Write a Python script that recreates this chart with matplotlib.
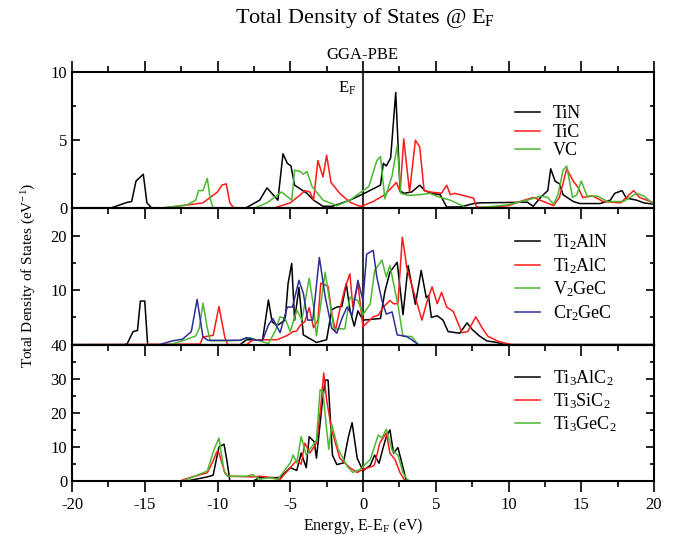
import numpy as np
import matplotlib
matplotlib.use("Agg")
import matplotlib.pyplot as plt
from matplotlib.ticker import MultipleLocator, FixedFormatter, FuncFormatter

plt.rcParams['font.family'] = ['Liberation Serif', 'DejaVu Serif']
plt.rcParams['mathtext.fontset'] = 'custom'
plt.rcParams['mathtext.rm'] = 'Liberation Serif'
plt.rcParams['mathtext.it'] = 'Liberation Serif:italic'
plt.rcParams['mathtext.default'] = 'regular'
plt.rcParams['axes.unicode_minus'] = False

# (energy eV, DOS)
# --- panel 1: binary carbides / nitrides
tin = [(-20, 0), (-17.4, 0), (-16.2, 0.44), (-15.9, 0.5), (-15.6, 2.0), (-15.1, 2.5), (-14.85, 0.4),
       (-14.5, 0), (-8.1, 0), (-7.1, 0.6), (-6.6, 1.5), (-5.85, 0.6), (-5.5, 4.0), (-5.2, 3.3),
       (-4.95, 3.1), (-4.7, 1.7), (-3.85, 1.1), (-3.4, 0.6), (-2.75, 0.15), (-2.1, 0.15), (-0.9, 0.6),
       (0, 1.05), (1.2, 1.7), (1.4, 3.3), (1.6, 3.1), (1.9, 3.7), (2.25, 8.5), (2.55, 1.3), (2.8, 1.1),
       (3.35, 1.2), (3.9, 1.7), (4.25, 1.3), (4.7, 1.1), (5.3, 1.0), (5.75, 0.1), (6.7, 0.1), (7.6, 0.35),
       (8.0, 0.4), (11.3, 0.45), (11.7, 0.15), (12.2, 0.8), (12.7, 1.3), (12.9, 2.9), (13.2, 2.0),
       (13.5, 1.8), (13.75, 1.0), (14.45, 0.5), (14.9, 0.35), (16.3, 0.35), (17.0, 0.6), (17.3, 1.1),
       (17.8, 1.3), (18.1, 0.75), (18.8, 0.6), (19.3, 0.4), (20, 0.3)]
tic = [(-20, 0), (-14.0, 0), (-12.4, 0.2), (-11.0, 0.4), (-10.0, 1.2), (-9.7, 1.7), (-9.4, 1.8),
       (-9.15, 0.4), (-8.9, 0.05), (-6.2, 0), (-5.0, 0.4), (-4.3, 1.0), (-4.0, 1.3), (-3.65, 1.2),
       (-3.4, 0.6), (-3.1, 3.5), (-2.75, 2.3), (-2.5, 3.9), (-2.2, 1.9), (-1.6, 1.1), (-0.9, 0.45),
       (-0.35, 0.2), (-0.1, 0.15), (0.7, 0.5), (1.5, 1.0), (2.3, 1.9), (2.55, 1.2), (2.8, 5.1), (3.2, 1.2),
       (3.6, 5.0), (3.9, 4.5), (4.2, 1.3), (4.6, 1.2), (5.4, 1.1), (5.75, 1.7), (6.0, 1.0), (6.3, 1.1),
       (7.6, 0.75), (7.8, 0.1), (8.5, 0.05), (10.0, 0.2), (10.8, 0.5), (11.7, 0.8), (12.4, 0.5),
       (13.1, 0.2), (13.5, 0.8), (14.0, 2.9), (14.45, 2.0), (14.8, 1.5), (15.1, 0.8), (15.8, 0.9),
       (16.5, 0.5), (17.7, 0.4), (18.6, 1.3), (19.0, 0.8), (20, 0.4)]
vc = [(-20, 0), (-14.0, 0), (-12.1, 0.25), (-11.5, 0.6), (-11.3, 1.3), (-11.0, 1.3), (-10.7, 2.2),
      (-10.5, 0.7), (-10.3, 0), (-7.5, 0), (-6.6, 0.4), (-5.6, 1.2), (-4.9, 0.6), (-4.7, 2.8), (-4.3, 2.7),
      (-4.1, 2.5), (-3.85, 2.7), (-3.5, 1.6), (-2.75, 0.6), (-1.8, 0.2), (-0.9, 0.6), (0.4, 1.6),
      (0.95, 3.5), (1.2, 3.8), (1.5, 0.7), (2.0, 2.4), (2.35, 4.6), (2.6, 1.1), (3.1, 0.95), (3.9, 1.0),
      (4.6, 1.1), (5.3, 0.8), (6.0, 0.6), (6.7, 0.25), (7.2, 0.0), (8.0, 0.05), (9.9, 0.25), (11.3, 0.6),
      (12.2, 0.9), (12.7, 0.8), (13.1, 0.3), (13.4, 1.0), (13.75, 2.8), (14.0, 3.1), (14.4, 0.8),
      (14.7, 1.0), (15.0, 2.0), (15.4, 0.9), (16.1, 0.9), (16.8, 0.5), (17.9, 0.5), (18.8, 1.1),
      (19.3, 0.9), (20, 0.3)]

# --- panel 2: M2AX phases
ti2aln = [(-20, 0), (-16.4, 0), (-16.2, 0.2), (-15.8, 2.4), (-15.5, 2.6), (-15.3, 8.0), (-15.0, 8.0),
          (-14.8, 0), (-8.45, 0), (-8.0, 0.9), (-6.9, 0.9), (-6.5, 8.2), (-6.25, 4.2), (-5.9, 3.5),
          (-5.35, 4.5), (-5.15, 11.2), (-4.9, 14.9), (-4.7, 4.5), (-4.4, 10.5), (-4.1, 1.8), (-3.2, 0.4),
          (-2.5, 0.9), (-2.15, 6.4), (-1.8, 6.9), (-1.45, 7.0), (-1.15, 11.2), (-0.9, 6.4), (-0.6, 3.4),
          (-0.35, 6.2), (0, 4.5), (1.2, 4.8), (1.5, 9.7), (1.85, 13.3), (2.1, 14.2), (2.35, 15.1),
          (2.75, 5.5), (3.1, 14.5), (3.6, 7.4), (4.0, 13.6), (4.35, 8.6), (4.5, 9.0), (4.7, 5.0),
          (5.1, 5.3), (5.5, 4.5), (5.85, 2.4), (6.65, 2.1), (7.15, 4.0), (7.5, 2.8), (8.0, 1.6),
          (8.5, 0.7), (9.2, 0.4), (9.6, 0.1), (10.1, 0), (20, 0)]
ti2alc = [(-20, 0), (-11.2, 0.1), (-11.0, 1.4), (-10.3, 1.7), (-9.9, 7.0), (-9.5, 1.4), (-9.3, 0),
          (-8.0, 0), (-7.55, 0.9), (-5.9, 0.9), (-5.2, 1.7), (-4.8, 2.4), (-4.55, 2.5), (-4.3, 3.6),
          (-4.0, 4.2), (-3.7, 6.8), (-3.4, 3.1), (-3.1, 4.5), (-2.9, 11.3), (-2.4, 10.7), (-2.15, 5.8),
          (-1.9, 2.5), (-1.6, 6.4), (-1.25, 10.3), (-0.9, 13.0), (-0.7, 6.9), (-0.35, 11.2), (0, 3.3),
          (0.35, 4.2), (0.7, 5.1), (1.05, 5.4), (1.4, 6.9), (1.85, 8.1), (2.1, 7.5), (2.4, 7.5),
          (2.7, 19.7), (2.9, 16.3), (3.0, 14.2), (3.45, 10.0), (4.05, 4.5), (4.4, 7.9), (4.75, 10.6),
          (5.1, 7.5), (5.4, 9.6), (5.75, 6.9), (6.2, 6.1), (6.8, 2.2), (7.2, 2.4), (7.75, 5.1),
          (8.2, 3.0), (8.6, 1.5), (9.3, 0.6), (9.9, 0.2), (10.3, 0), (20, 0)]
v2gec = [(-20, 0), (-13.3, 0), (-12.4, 0.7), (-11.5, 1.6), (-11.25, 3.0), (-11.0, 7.6), (-10.7, 3.0),
         (-10.5, 0.7), (-9.35, 0.7), (-8.45, 0.8), (-7.8, 1.3), (-7.1, 0.7), (-6.5, 0.2), (-6.05, 2.4),
         (-5.7, 5.1), (-5.35, 4.8), (-5.0, 2.4), (-4.55, 6.4), (-4.2, 4.5), (-3.7, 12.2), (-3.4, 7.0),
         (-3.2, 1.6), (-2.6, 13.3), (-2.3, 8.1), (-2.0, 2.9), (-1.25, 2.9), (-0.9, 8.7), (-0.35, 8.1),
         (0, 5.5), (0.5, 7.5), (0.8, 13.6), (1.3, 15.5), (1.6, 12.4), (1.85, 14.5), (2.1, 11.2),
         (2.4, 7.3), (2.75, 1.5), (3.35, 1.5), (3.8, 0), (20, 0)]
cr2gec = [(-20, 0), (-14.0, 0), (-13.1, 0.7), (-12.4, 1.0), (-11.8, 2.4), (-11.4, 8.3), (-11.0, 1.4),
          (-10.65, 0.8), (-8.45, 0.8), (-8.0, 1.3), (-7.3, 0.8), (-6.9, 0.8), (-6.5, 3.6), (-6.2, 4.8),
          (-5.7, 2.2), (-5.2, 6.9), (-4.85, 6.9), (-4.4, 11.8), (-4.1, 9.4), (-3.8, 4.5), (-3.45, 4.5),
          (-3.0, 16.0), (-2.6, 8.8), (-2.15, 3.0), (-1.8, 2.1), (-1.45, 4.8), (-1.1, 6.9), (-0.75, 5.4),
          (-0.35, 11.8), (0, 8.1), (0.25, 16.6), (0.7, 17.3), (0.95, 12.4), (1.3, 8.1), (1.6, 5.6),
          (2.0, 6.0), (2.35, 1.8), (3.0, 1.5), (3.35, 0.9), (3.8, 0), (20, 0)]

# --- panel 3: M3AX2 phases
ti3alc2 = [(-20, 0), (-12.1, 0), (-10.7, 1.2), (-10.3, 1.7), (-9.9, 10.0), (-9.55, 10.8), (-9.35, 5.9),
           (-9.15, 0), (-7.55, 0), (-7.1, 1.0), (-5.7, 1.0), (-5.0, 3.9), (-4.55, 3.1), (-4.25, 8.2),
           (-3.9, 3.9), (-3.7, 13.0), (-3.35, 11.5), (-3.2, 6.7), (-2.8, 22.9), (-2.6, 29.6), (-2.4, 29.6),
           (-2.1, 7.6), (-1.8, 4.8), (-1.35, 5.3), (-1.0, 13.0), (-0.75, 17.1), (-0.4, 6.7), (0, 3.0),
           (0.5, 4.6), (0.8, 7.6), (1.1, 5.2), (1.4, 10.0), (1.6, 13.0), (1.85, 15.0), (2.1, 8.2),
           (2.4, 9.8), (2.7, 4.8), (2.95, 0.5), (3.2, 0), (20, 0)]
ti3sic2 = [(-20, 0), (-12.6, 0), (-11.9, 1.0), (-10.7, 2.4), (-10.3, 5.9), (-10.05, 8.6), (-9.9, 8.3),
           (-9.5, 2.4), (-9.3, 1.4), (-7.55, 1.2), (-7.1, 1.4), (-6.6, 1.2), (-5.7, 0.5), (-5.0, 3.9),
           (-4.55, 6.1), (-4.25, 4.9), (-4.0, 11.1), (-3.65, 8.2), (-3.2, 11.1), (-2.9, 21.8), (-2.7, 31.7),
           (-2.5, 23.8), (-2.15, 14.9), (-1.6, 6.7), (-0.9, 3.9), (-0.4, 2.5), (0, 3.4), (0.7, 4.4),
           (0.8, 4.9), (1.15, 11.1), (1.6, 14.1), (1.85, 8.2), (2.2, 6.3), (2.55, 2.4), (2.9, 0), (20, 0)]
ti3gec2 = [(-20, 0), (-12.4, 0), (-10.7, 2.9), (-10.25, 9.1), (-9.9, 12.6), (-9.55, 3.0), (-9.3, 1.4),
           (-8.0, 1.4), (-7.6, 1.9), (-7.1, 0.5), (-6.5, 1.0), (-5.85, 0.5), (-5.0, 5.3), (-4.8, 7.6),
           (-4.55, 5.3), (-4.25, 13.0), (-3.9, 7.6), (-3.6, 9.6), (-3.2, 11.9), (-2.95, 26.8), (-2.75, 26.3),
           (-2.55, 17.1), (-2.35, 9.3), (-2.15, 16.6), (-1.7, 9.3), (-1.1, 4.4), (-0.7, 2.5), (-0.2, 3.4),
           (0.5, 6.3), (1.05, 13.5), (1.3, 12.6), (1.6, 15.2), (2.0, 9.0), (2.4, 7.6), (2.75, 2.4),
           (3.1, 0), (20, 0)]

black, red, green, blue = 'black', '#ff1a1a', '#4cb830', '#2e2e9a'

panels = [
    ([tin, tic, vc], ['TiN', 'TiC', 'VC'], [black, red, green], 10, 5, 2.5),
    ([ti2aln, ti2alc, v2gec, cr2gec], ['Ti$_2$AlN', 'Ti$_2$AlC', 'V$_2$GeC', 'Cr$_2$GeC'],
     [black, red, green, blue], 25, 10, 5),
    ([ti3alc2, ti3sic2, ti3gec2], ['Ti$_3$AlC$_2$', 'Ti$_3$SiC$_2$', 'Ti$_3$GeC$_2$'],
     [black, red, green], 40, 10, 5),
]
leg_top = [0.755, 0.825, 0.83]
leg_space = [0.08, 0.22, 0.2]

fig = plt.figure(figsize=(6.78, 5.35), dpi=100)
left, width = 72 / 678, 582 / 678
h = 136.33 / 535
bottoms = [1 - 72 / 535 - h, 1 - 72 / 535 - 2 * h, 1 - 72 / 535 - 3 * h]

for i, (series, names, cols, ymax, maj, mnr) in enumerate(panels):
    ax = fig.add_axes([left, bottoms[i], width, h])
    ax.patch.set_visible(False)
    for s, name, c in zip(series, names, cols):
        e, d = np.array(s).T
        ax.plot(e, d, color=c, lw=1.1, label=name)
    ax.axvline(0, color='#333333', lw=1.5, zorder=0)
    ax.set_xlim(-20, 20)
    ax.set_ylim(0, ymax)
    ax.xaxis.set_major_locator(MultipleLocator(5))
    ax.xaxis.set_minor_locator(MultipleLocator(2.5))
    ax.yaxis.set_major_locator(MultipleLocator(maj))
    ax.yaxis.set_minor_locator(MultipleLocator(mnr))
    if i == 1:
        # zero of the middle panel sits under the "40" of the lower one
        ax.yaxis.set_major_formatter(FuncFormatter(lambda v, p: '' if v == 0 else '%g' % v))
    for sp in ax.spines.values():
        sp.set_linewidth(1.5)
    ax.tick_params(axis='y', which='both', direction='in', left=True, right=True, labelsize=12, width=1.2)
    ax.tick_params(axis='y', which='major', length=6)
    ax.tick_params(axis='y', which='minor', length=3)
    ax.tick_params(axis='x', which='both', direction='out', bottom=True, top=(i == 0),
                   labelbottom=(i == 2), labelsize=12, width=1.2)
    ax.tick_params(axis='x', which='major', length=8)
    ax.tick_params(axis='x', which='minor', length=4)
    ax.legend(loc='upper left', bbox_to_anchor=(0.761, leg_top[i]), frameon=False, fontsize=13,
              borderpad=0, borderaxespad=0, handlelength=1.4, handletextpad=0.7,
              labelspacing=leg_space[i])
    if i == 0:
        ax.text(-1.1, 8.8, 'E$_F$', ha='center', va='center', fontsize=12)
    if i == 2:
        ax.set_xlabel('Energy, E-E$_F$ (eV)', fontsize=11.5, labelpad=2)

fig.text(0.538, 0.966, 'Total Density of States @ E$_F$', ha='center', va='center', fontsize=16)
fig.text(0.535, 0.897, 'GGA-PBE', ha='center', va='center', fontsize=12)
fig.text(0.042, 0.486, 'Total Density of States (eV$^{-1}$)', rotation=90, ha='center', va='center',
         fontsize=11)

fig.savefig('out.png', dpi=100)
